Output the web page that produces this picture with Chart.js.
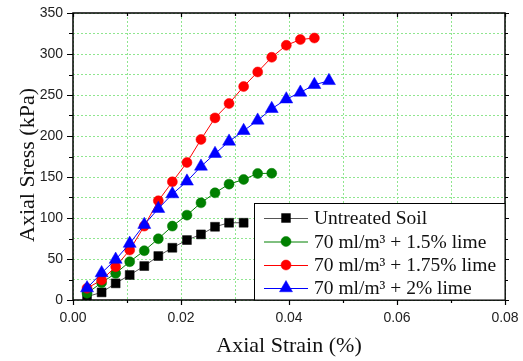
<!DOCTYPE html>
<html><head><meta charset="utf-8">
<script src="https://cdn.jsdelivr.net/npm/chart.js@4.4.0/dist/chart.umd.min.js"></script>
<style>html,body{margin:0;padding:0;background:#fff}#wrap{width:523px;height:361px;position:relative}</style>
</head><body><div id="wrap"><canvas id="c"></canvas></div>
<script>
// ---- data ----
const seriesNames = ["Untreated Soil", "70 ml/m\u00B3 + 1.5% lime", "70 ml/m\u00B3 + 1.75% lime", "70 ml/m\u00B3 + 2% lime"];
const untreatedStrain = [0.0026, 0.0053, 0.0079, 0.0105, 0.0132, 0.0158, 0.0184, 0.0211, 0.0237, 0.0263, 0.0289, 0.0316];
const untreatedStress = [4.1, 9.3, 20.3, 30.5, 41.4, 53.6, 63.7, 73.1, 80.0, 89.3, 94.2, 94.2];
const lime15Strain = [0.0026, 0.0053, 0.0079, 0.0105, 0.0132, 0.0158, 0.0184, 0.0211, 0.0237, 0.0263, 0.0289, 0.0316, 0.0342, 0.0368];
const lime15Stress = [8.2, 21.1, 32.5, 46.7, 60.1, 74.7, 90.1, 103.5, 118.5, 130.7, 141.3, 147.0, 154.3, 154.5];
const lime175Strain = [0.0026, 0.0053, 0.0079, 0.0105, 0.0132, 0.0158, 0.0184, 0.0211, 0.0237, 0.0263, 0.0289, 0.0316, 0.0342, 0.0368, 0.0395, 0.0421, 0.0447];
const lime175Stress = [14.3, 24.4, 40.6, 60.9, 90.1, 121.0, 144.1, 167.7, 195.8, 222.1, 239.6, 260.3, 278.1, 296.0, 310.6, 317.6, 319.5];
const lime2Strain = [0.0026, 0.0053, 0.0079, 0.0105, 0.0132, 0.0158, 0.0184, 0.0211, 0.0237, 0.0263, 0.0289, 0.0316, 0.0342, 0.0368, 0.0395, 0.0421, 0.0447, 0.0474];
const lime2Stress = [14.5, 33.0, 49.3, 68.8, 91.9, 111.4, 129.2, 144.7, 162.9, 178.4, 193.4, 206.4, 219.0, 233.2, 244.9, 253.1, 262.5, 267.3];
const xTickLabels = ["0.00", "", "0.02", "", "0.04", "", "0.06", "", "0.08"];
const yTickLabels = ["0", "", "50", "", "100", "", "150", "", "200", "", "250", "", "300", "", "350"];
const xTitle = "Axial Strain (%)";
const yTitle = "Axial Sress (kPa)";

const pts = (xs, ys) => xs.map((x, i) => ({ x: x, y: ys[i] }));

const styles = [
  { line: '#555555', fill: '#000000', pointStyle: 'rect', radius: 6.3 },
  { line: '#008000', fill: '#008000', pointStyle: 'circle', radius: 5 },
  { line: '#ff0000', fill: '#ff0000', pointStyle: 'circle', radius: 5 },
  { line: '#0000ff', fill: '#0000ff', pointStyle: 'triangle', radius: 7.5 }
];
const dataSets = [pts(untreatedStrain, untreatedStress), pts(lime15Strain, lime15Stress), pts(lime175Strain, lime175Stress), pts(lime2Strain, lime2Stress)];

const datasets = dataSets.map((d, i) => ({
  label: seriesNames[i],
  data: d,
  borderColor: styles[i].line,
  borderWidth: 1,
  backgroundColor: styles[i].fill,
  pointBackgroundColor: styles[i].fill,
  pointBorderColor: styles[i].fill,
  pointBorderWidth: 0.5,
  pointStyle: styles[i].pointStyle,
  pointRadius: styles[i].radius,
  pointHoverRadius: styles[i].radius,
  showLine: true,
  tension: 0,
  order: 4 - i
}));

const gridColor = '#8fe68f';

const decor = {
  id: 'decor',
  afterDraw(chart) {
    const ctx = chart.ctx;
    const a = chart.chartArea;
    const xs = chart.scales.x, ys = chart.scales.y;
    ctx.save();
    // frame
    ctx.strokeStyle = '#000';
    ctx.lineWidth = 1.5;
    ctx.strokeRect(a.left, a.top, a.right - a.left, a.bottom - a.top);
    ctx.lineWidth = 1.2;
    // x ticks
    xs.ticks.forEach((t, i) => {
      const px = Math.round(xs.getPixelForValue(t.value)) + 0.5;
      const major = i % 2 === 0;
      ctx.beginPath();
      ctx.moveTo(px, a.bottom); ctx.lineTo(px, a.bottom + (major ? 5 : 3));
      ctx.moveTo(px, a.top); ctx.lineTo(px, a.top + (major ? 4 : 3));
      ctx.stroke();
    });
    ys.ticks.forEach((t, i) => {
      const py = Math.round(ys.getPixelForValue(t.value)) + 0.5;
      const major = i % 2 === 0;
      ctx.beginPath();
      ctx.moveTo(a.left, py); ctx.lineTo(a.left - (major ? 6 : 4), py);
      ctx.moveTo(a.right, py); ctx.lineTo(a.right + (major ? 4 : 3), py);
      ctx.stroke();
    });
    // titles
    ctx.fillStyle = '#111';
    ctx.font = '22px "Liberation Serif", "Times New Roman", serif';
    ctx.textAlign = 'center';
    ctx.textBaseline = 'middle';
    ctx.fillText(xTitle, (a.left + a.right) / 2, 346);
    ctx.save();
    ctx.translate(28, 165);
    ctx.rotate(-Math.PI / 2);
    ctx.fillText(yTitle, 0, 0);
    ctx.restore();
    // legend
    const bx = 254.5, by = 203.5, bw = a.right - bx, bh = a.bottom - by;
    ctx.fillStyle = '#fff';
    ctx.fillRect(bx, by, bw, bh);
    ctx.strokeStyle = '#000';
    ctx.lineWidth = 1;
    ctx.strokeRect(bx, by, bw, bh);
    const rowsY = [218, 241.5, 265, 288];
    ctx.font = '19.5px "Liberation Serif", "Times New Roman", serif';
    ctx.textAlign = 'left';
    datasets.forEach((ds, i) => {
      const y = rowsY[i];
      ctx.strokeStyle = ds.borderColor;
      ctx.lineWidth = 1;
      ctx.beginPath();
      ctx.moveTo(264, y + 0.5); ctx.lineTo(308, y + 0.5);
      ctx.stroke();
      ctx.fillStyle = ds.pointBackgroundColor;
      ctx.strokeStyle = ds.pointBorderColor;
      ctx.lineWidth = 0.5;
      Chart.helpers.drawPoint(ctx, { pointStyle: ds.pointStyle, radius: ds.pointRadius, rotation: 0, borderWidth: 0.5 }, 286, y);
      ctx.fillStyle = '#111';
      ctx.fillText(ds.label, 314, y + 1);
    });
    ctx.restore();
  }
};

new Chart(document.getElementById('c'), {
  type: 'scatter',
  data: { datasets: datasets },
  options: {
    responsive: true,
    maintainAspectRatio: false,
    animation: false,
    events: [],
    layout: { padding: { left: 0, top: 13, right: 18, bottom: 0 } },
    plugins: { legend: { display: false }, tooltip: { enabled: false }, title: { display: false } },
    scales: {
      x: {
        type: 'linear', min: 0, max: 0.08,
        afterFit(s) { s.height = 61; s.paddingLeft = 0; s.paddingRight = 0; },
        grid: { color: gridColor, lineWidth: 1, drawTicks: false },
        border: { display: false, dash: [2, 2] },
        ticks: {
          stepSize: 0.01, autoSkip: false, maxRotation: 0, padding: 10,
          color: '#222', font: { family: '"Liberation Sans", Arial, sans-serif', size: 14 },
          callback: (v, i) => xTickLabels[i]
        }
      },
      y: {
        type: 'linear', min: 0, max: 350,
        afterFit(s) { s.width = 73; s.paddingTop = 0; s.paddingBottom = 0; },
        grid: { color: gridColor, lineWidth: 1, drawTicks: false },
        border: { display: false, dash: [2, 2] },
        ticks: {
          stepSize: 25, autoSkip: false, padding: 10,
          color: '#222', font: { family: '"Liberation Sans", Arial, sans-serif', size: 14 },
          callback: (v, i) => yTickLabels[i]
        }
      }
    }
  },
  plugins: [decor]
});
</script></body></html>
